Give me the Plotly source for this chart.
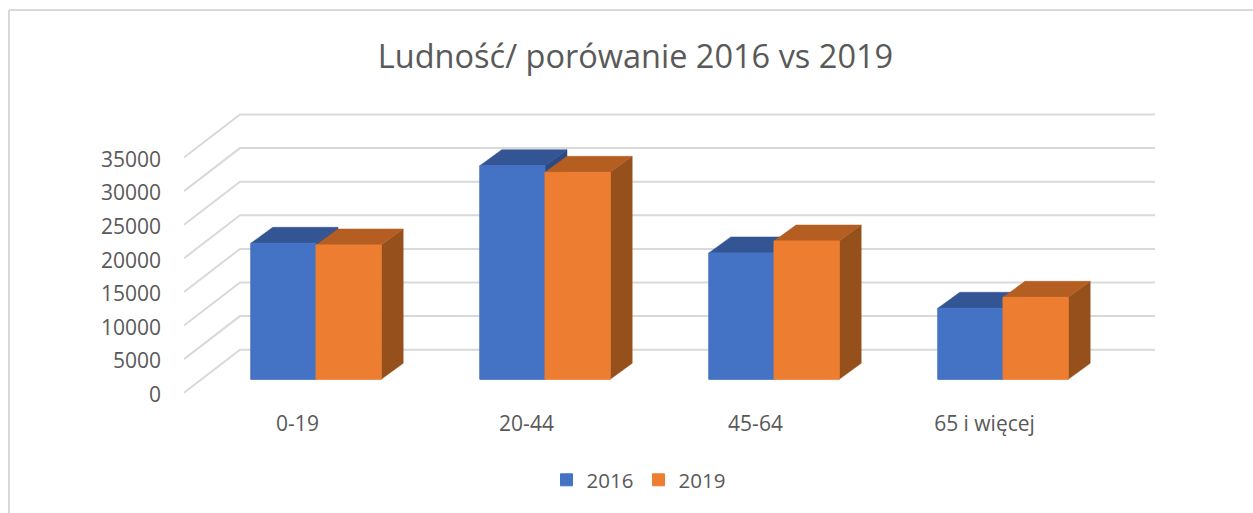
import plotly.graph_objects as go

# ---- data ----
categories = ["0-19", "20-44", "45-64", "65 i więcej"]
series_2016 = [20240, 31790, 18800, 10570]
series_2019 = [19990, 30800, 20580, 12200]
y_ticks = [0, 5000, 10000, 15000, 20000, 25000, 30000, 35000]
title_text = "Ludność/ porówanie 2016 vs 2019"

W, H = 1253, 513
M_B = 110                # bottom margin, keeps the legend from pushing the layout
# pixel frame of the plotting region
PX_L, PX_R, PX_B, PX_T = 184.0, 1155.0, 398.0, 110.0
FLOOR_PX = 392.7         # front edge of the floor, where value 0 sits on the axis
PX_PER_CAT = 229.0
PX_PER_UNIT = 33.6 / 5000.0
GROUP0_PX = 316.0
BASE_PX = 379.3          # bar front base


def py(px):
    return (H - M_B - px) / (H - M_B)


x_rng = [(PX_L - GROUP0_PX) / PX_PER_CAT, (PX_R - GROUP0_PX) / PX_PER_CAT]
y_rng = [(BASE_PX - PX_B) / PX_PER_UNIT, (BASE_PX - PX_T) / PX_PER_UNIT]

BAR_W = 65.2 / PX_PER_CAT
DEPTH_X = 22.0 / PX_PER_CAT
DEPTH_Y = 16.0 / PX_PER_UNIT
# wall (gridline) projection relative to the front floor edge
WALL_X0 = x_rng[0]
WALL_X1 = (240.0 - GROUP0_PX) / PX_PER_CAT
FLOOR_Y = (BASE_PX - FLOOR_PX) / PX_PER_UNIT
WALL_DY = 43.0 / PX_PER_UNIT
LABEL_NUDGE = 2.0 / PX_PER_UNIT

GRID = "#D9D9D9"
TXT = "#595959"
FONT = "Open Sans"
BLUE, BLUE_TOP, BLUE_SIDE = "#4472C4", "#335593", "#2B4A82"
ORANGE, ORANGE_TOP, ORANGE_SIDE = "#ED7D31", "#B45E22", "#96501C"

fig = go.Figure()

# gridlines on wall and floor-side diagonals
for v in y_ticks:
    y0 = FLOOR_Y + v
    y1 = y0 + WALL_DY
    fig.add_trace(go.Scatter(
        x=[WALL_X0, WALL_X1, x_rng[1]], y=[y0, y1, y1], mode="lines",
        line=dict(color=GRID, width=2), hoverinfo="skip", showlegend=False,
        xaxis="x", yaxis="y",
    ))


def depth_faces(vals, left_off, top_col, side_col):
    for i, v in enumerate(vals):
        xl = i + left_off
        xr = xl + BAR_W
        # side
        fig.add_trace(go.Scatter(
            x=[xr, xr + DEPTH_X, xr + DEPTH_X, xr, xr],
            y=[0, DEPTH_Y, v + DEPTH_Y, v, 0],
            mode="lines", fill="toself", fillcolor=side_col,
            line=dict(color=side_col, width=0.5),
            hoverinfo="skip", showlegend=False, xaxis="x", yaxis="y",
        ))
        # top
        fig.add_trace(go.Scatter(
            x=[xl, xr, xr + DEPTH_X, xl + DEPTH_X, xl],
            y=[v, v, v + DEPTH_Y, v + DEPTH_Y, v],
            mode="lines", fill="toself", fillcolor=top_col,
            line=dict(color=top_col, width=0.5),
            hoverinfo="skip", showlegend=False, xaxis="x", yaxis="y",
        ))


depth_faces(series_2016, -BAR_W, BLUE_TOP, BLUE_SIDE)
depth_faces(series_2019, 0.0, ORANGE_TOP, ORANGE_SIDE)

# front faces on an overlay subplot, so they sit over every depth face
idx = list(range(len(categories)))
fig.add_trace(go.Bar(name="2016", x=idx, y=series_2016, marker=dict(color=BLUE, line=dict(width=1, color=BLUE)),
                     xaxis="x2", yaxis="y2"))
fig.add_trace(go.Bar(name="2019", x=idx, y=series_2019, marker=dict(color=ORANGE, line=dict(width=1, color=ORANGE)),
                     xaxis="x2", yaxis="y2"))

dom_x = [PX_L / W, PX_R / W]
dom_y = [py(PX_B), py(PX_T)]

fig.update_layout(
    width=W, height=H,
    margin=dict(l=0, r=0, t=0, b=M_B),
    paper_bgcolor="white", plot_bgcolor="rgba(0,0,0,0)",
    barmode="group", bargap=1 - 2 * BAR_W, bargroupgap=0,
    title=dict(text=title_text, x=635.5 / W, xanchor="center", xref="container",
               y=1 - 57 / H, yanchor="middle", yref="container",
               font=dict(family=FONT, size=32.5, color=TXT)),
    font=dict(family=FONT, color=TXT),
    xaxis=dict(domain=dom_x, range=x_rng, showgrid=False, zeroline=False, showline=False,
               tickmode="array", tickvals=[i - 18.5 / PX_PER_CAT for i in idx], ticktext=categories,
               ticks="", ticklabelstandoff=11, tickfont=dict(family=FONT, size=21, color=TXT)),
    yaxis=dict(domain=dom_y, range=y_rng, showgrid=False, zeroline=False, showline=False,
               tickmode="array", tickvals=[FLOOR_Y + v - LABEL_NUDGE for v in y_ticks],
               ticktext=[str(v) for v in y_ticks],
               ticks="", ticklabelstandoff=22, tickfont=dict(family=FONT, size=21, color=TXT)),
    xaxis2=dict(domain=dom_x, range=x_rng, overlaying="x", visible=False),
    yaxis2=dict(domain=dom_y, range=y_rng, overlaying="y", visible=False, anchor="x2"),
    legend=dict(orientation="h",
                x=638.5 / W, xanchor="center", y=py(480), yanchor="middle",
                font=dict(family=FONT, size=20.5, color=TXT), traceorder="normal",
                entrywidth=47, entrywidthmode="pixels",
                itemclick=False, itemdoubleclick=False),
    shapes=[
        dict(type="line", xref="paper", yref="paper", x0=9 / W, x1=1, y0=py(10), y1=py(10),
             line=dict(color=GRID, width=2), layer="below"),
        dict(type="line", xref="paper", yref="paper", x0=9 / W, x1=9 / W, y0=py(10), y1=py(H),
             line=dict(color=GRID, width=2), layer="below"),
    ],
)

fig.write_html("out.html", config={"displayModeBar": False},
               post_script="document.body.style.margin='0';")
